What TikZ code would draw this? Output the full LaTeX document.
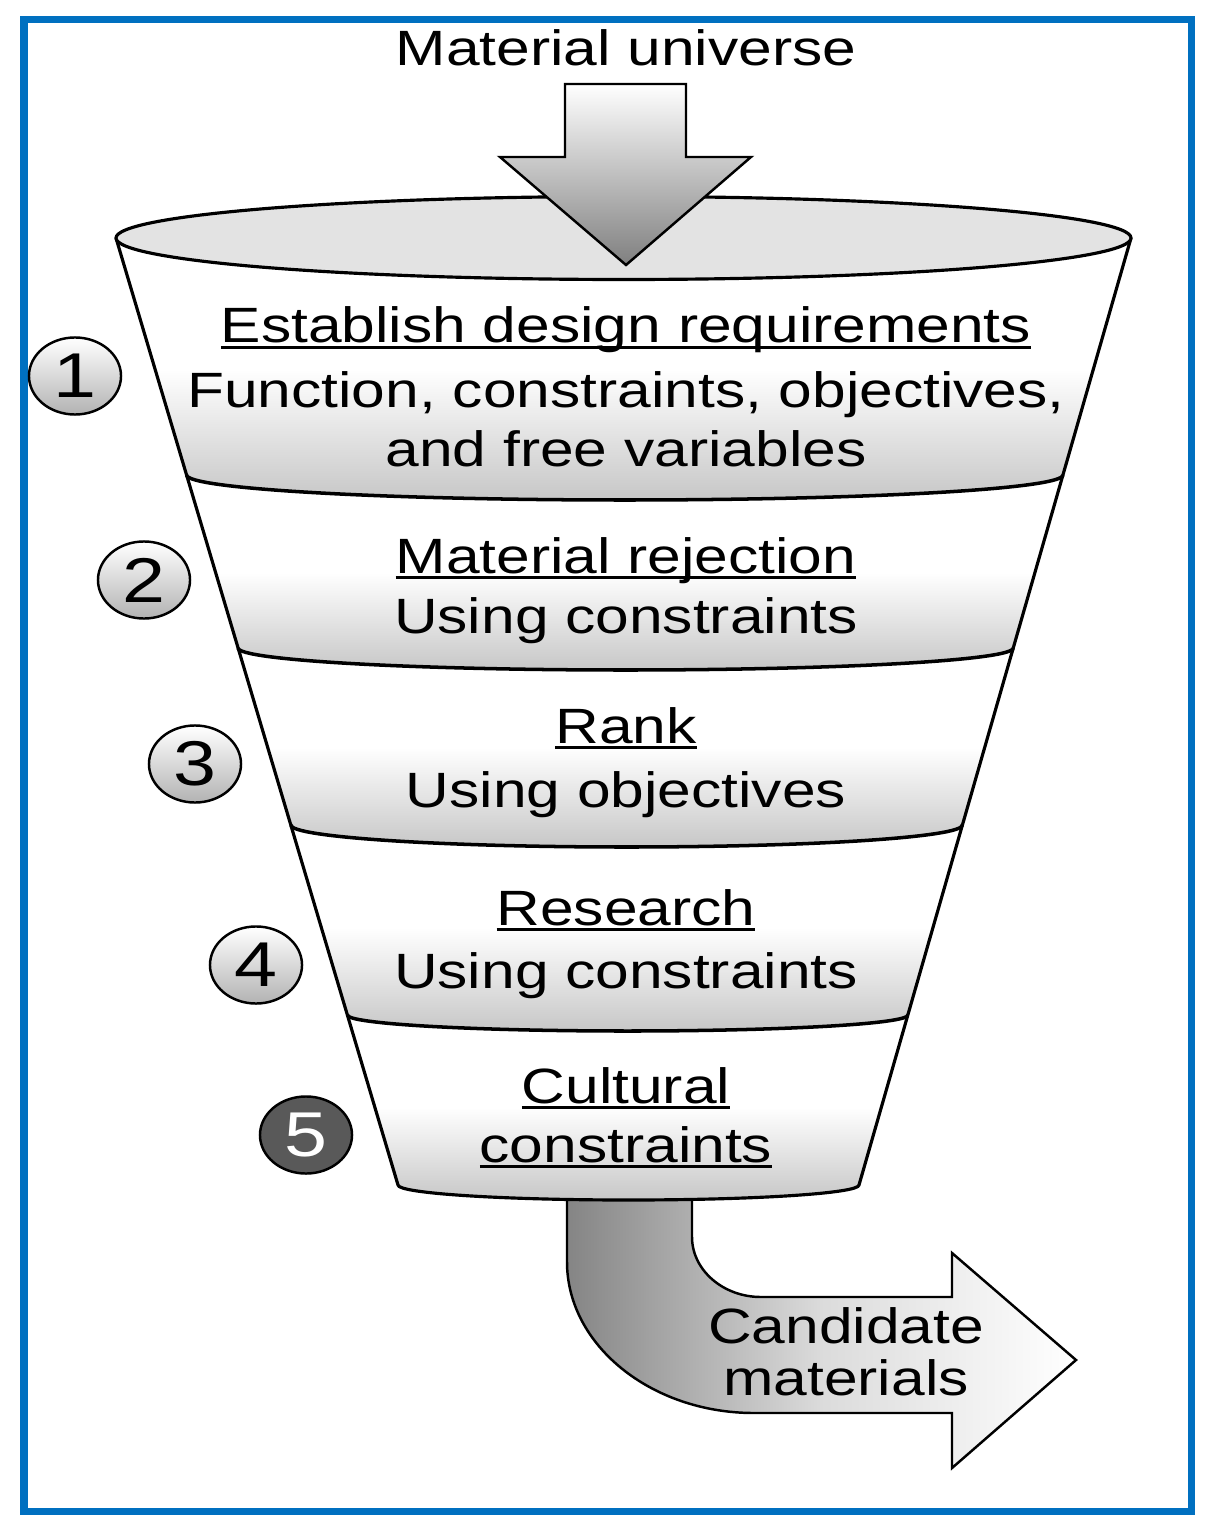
\documentclass[tikz,border=0pt]{standalone}
\usepackage{fontspec}
\setmainfont[FakeStretch=1.22]{Liberation Sans}
\usetikzlibrary{shapes.geometric}
\definecolor{frameblue}{RGB}{0,112,192}
\newsavebox\ulbox
\newcommand{\ulword}[1]{\sbox\ulbox{#1}\rlap{\rule[-0.13em]{\wd\ulbox}{0.06em}}\usebox\ulbox}
\begin{document}
\begin{tikzpicture}[x=0.01cm,y=-0.01cm,
	band/.style={top color=white,bottom color=black!22,middle color=white},
	disc/.style={ellipse,draw,line width=0.7pt,minimum width=0.92cm,minimum height=0.77cm,inner sep=0pt,font=\fontsize{18}{20}\selectfont},
	light/.style={top color=white,bottom color=black!30},
	dark/.style={fill=black!65,text=white},
	txt/.style={anchor=base,inner sep=0pt,font=\fontsize{14.1}{16}\selectfont}]
	\useasboundingbox (0,0) rectangle (1217,1525);
	\draw[frameblue,line width=2pt] (24,19.5) rectangle (1191.5,1511);
	\shadedraw[left color=black!48,right color=white,middle color=black!14,line width=0.7pt] (567,1190) -- (567,1262) .. controls (567,1345) and (651,1413) .. (754,1413) -- (952,1413) -- (952,1468) -- (1076,1360) -- (952,1253) -- (952,1297) -- (761,1297) .. controls (723,1297) and (692,1270) .. (692,1237) -- (692,1190) -- cycle;
	\shade[band] (116,238) -- (186.6,475) arc[start angle=180,end angle=0,x radius=438.15,y radius=25] -- (1131,238) arc[start angle=0,end angle=180,x radius=507.5,y radius=41.5] -- cycle;
	\shade[band] (186.6,475) -- (238.1,648) arc[start angle=180,end angle=0,x radius=387.55,y radius=22] -- (1062.9,475) arc[start angle=0,end angle=180,x radius=438.15,y radius=25] -- cycle;
	\shade[band] (238.1,648) -- (290.8,825) arc[start angle=180,end angle=0,x radius=335.8,y radius=22] -- (1013.2,648) arc[start angle=0,end angle=180,x radius=387.55,y radius=22] -- cycle;
	\shade[band] (290.8,825) -- (347.4,1015) arc[start angle=180,end angle=0,x radius=280.25,y radius=16] -- (962.4,825) arc[start angle=0,end angle=180,x radius=335.8,y radius=22] -- cycle;
	\shade[band] (347.4,1015) -- (398,1185) arc[start angle=180,end angle=0,x radius=230.5,y radius=15] -- (907.9,1015) arc[start angle=0,end angle=180,x radius=280.25,y radius=16] -- cycle;
	\draw[line width=1pt] (186.6,475) arc[start angle=180,end angle=0,x radius=438.15,y radius=25]
		(238.1,648) arc[start angle=180,end angle=0,x radius=387.55,y radius=22]
		(290.8,825) arc[start angle=180,end angle=0,x radius=335.8,y radius=22]
		(347.4,1015) arc[start angle=180,end angle=0,x radius=280.25,y radius=16];
	\draw[line width=0.9pt] (116,238) -- (398,1185) arc[start angle=180,end angle=0,x radius=230.5,y radius=15] -- (1131,238);
	\filldraw[fill=black!11,line width=0.9pt] (623.5,238) ellipse[x radius=507.5,y radius=41.5];
	\shadedraw[top color=white,bottom color=black!50,line width=0.7pt] (565,84) -- (686,84) -- (686,157) -- (751,157) -- (626,265) -- (500,157) -- (565,157) -- cycle;
	\node[disc,light] (s1) at (75,376) {1};
	\node[disc,light] (s2) at (144,580) {2};
	\node[disc,light] (s3) at (195,764) {3};
	\node[disc,light] (s4) at (256,965) {4};
	\node[disc,dark] (s5) at (306,1135) {5};
	\node[txt] (universe) at (626,66) {Material universe};
	\node[txt] (req) at (626,343) {\ulword{Establish design requirements}};
	\node[txt] (req-a) at (626,408) {Function, constraints, objectives,};
	\node[txt] (req-b) at (626,467) {and free variables};
	\node[txt] (rej) at (626,573) {\ulword{Material rejection}};
	\node[txt] (rej-a) at (626,633) {Using constraints};
	\node[txt] (rank) at (626,743) {\ulword{Rank}};
	\node[txt] (rank-a) at (626,807) {Using objectives};
	\node[txt] (res) at (626,925) {\ulword{Research}};
	\node[txt] (res-a) at (626,988) {Using constraints};
	\node[txt] (cult) at (626,1103) {\ulword{Cultural}};
	\node[txt] (cult-a) at (626,1162) {\ulword{constraints}};
	\node[txt] (cand) at (846,1343) {Candidate};
	\node[txt] (cand-a) at (846,1395) {materials};
\end{tikzpicture}
\end{document}
